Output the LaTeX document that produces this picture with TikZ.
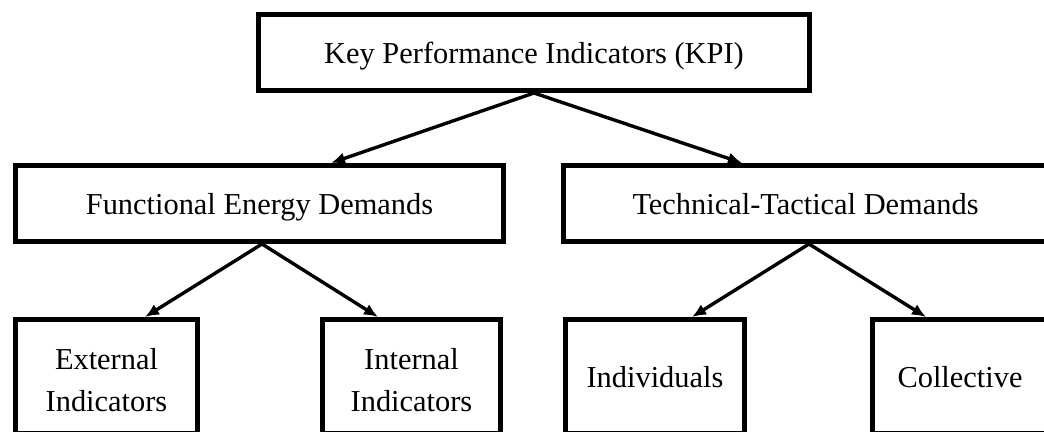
\documentclass[tikz,border=0pt]{standalone}
\usepackage{fontspec}
\setmainfont{Liberation Serif}
\usetikzlibrary{arrows.meta}
\begin{document}
\begin{tikzpicture}[x=0.5pt, y=-0.5pt, >={Latex[length=7pt, width=6pt]},
		kpibox/.style={draw=black, line width=2.5pt, inner sep=0pt, align=center,
			font=\fontsize{15.2}{21}\selectfont},
		kpiline/.style={text height=12.5pt, text depth=1pt},
		kpitwo/.style={text height=35pt, text depth=0pt},
		kpiarrow/.style={->, line width=1.7pt}]
	\useasboundingbox (0,0) rectangle (1044,432);
	% boxes of the tree
	\node[kpibox, kpiline, minimum width=275.5pt, minimum height=38pt] (kpi) at (534,52.5) {Key Performance Indicators (KPI)};
	\node[kpibox, kpiline, minimum width=244pt, minimum height=38pt] (fed) at (259.5,203.5) {Functional Energy Demands};
	\node[kpibox, kpiline, minimum width=242pt, minimum height=38pt] (ttd) at (805.5,203.5) {Technical-Tactical Demands};
	\node[kpibox, kpitwo, minimum width=91pt, minimum height=57pt] (ext) at (106.5,376.5) {External\\Indicators};
	\node[kpibox, kpitwo, minimum width=89pt, minimum height=57pt] (int) at (411.5,376.5) {Internal\\Indicators};
	\node[kpibox, kpiline, minimum width=89.5pt, minimum height=57pt] (ind) at (655,376.5) {Individuals};
	\node[kpibox, kpiline, minimum width=87.5pt, minimum height=57pt] (col) at (960,376.5) {Collective};
	% connectors
	\draw[kpiarrow] (kpi.south) -- ([xshift=35.75pt]fed.north);
	\draw[kpiarrow] (kpi.south) -- ([xshift=-31.75pt]ttd.north);
	\draw[kpiarrow] ([xshift=1.25pt]fed.south) -- ([xshift=19.25pt]ext.north);
	\draw[kpiarrow] ([xshift=1.25pt]fed.south) -- ([xshift=-16.75pt]int.north);
	\draw[kpiarrow] ([xshift=1.75pt]ttd.south) -- ([xshift=18.5pt]ind.north);
	\draw[kpiarrow] ([xshift=1.75pt]ttd.south) -- ([xshift=-17pt]col.north);
\end{tikzpicture}
\end{document}
